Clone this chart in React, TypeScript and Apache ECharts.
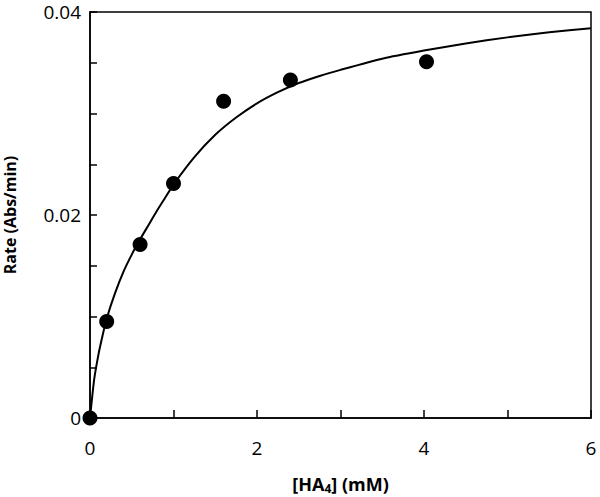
import React, { useEffect, useRef } from "react";
import * as echarts from "echarts";

const pointX = [0, 0.2, 0.6, 1.0, 1.6, 2.4, 4.03];
const pointY = [0, 0.0095, 0.0171, 0.0231, 0.0312, 0.0333, 0.0351];

const curveX = [0, 0.05, 0.1, 0.15, 0.2, 0.3, 0.4, 0.5, 0.6, 0.7, 0.8, 0.9, 1.0, 1.25, 1.5, 1.75, 2.0, 2.25, 2.5, 2.75, 3.0, 3.5, 4.0, 4.5, 5.0, 5.5, 6.0];
const curveY = [0, 0.0038, 0.0062, 0.0081, 0.0098, 0.0123, 0.0144, 0.0161, 0.0176, 0.019, 0.0204, 0.0217, 0.023, 0.0257, 0.0279, 0.0296, 0.031, 0.0321, 0.033, 0.0337, 0.0343, 0.0354, 0.0362, 0.0369, 0.0375, 0.038, 0.0384];

const xLabels = ["0", "2", "4", "6"];
const yLabels = ["0", "0.02", "0.04"];

const FONT = "'Open Sans', 'Noto Sans', sans-serif";

export default function App() {
  const ref = useRef<HTMLDivElement>(null);
  useEffect(() => {
    if (!ref.current) return;
    const chart = echarts.init(ref.current, null, { renderer: "svg" });
    chart.setOption({
      animation: false,
      backgroundColor: "#ffffff",
      grid: {
        left: 90,
        right: 9,
        top: 12,
        bottom: 79,
        outerBoundsMode: "none",
        containLabel: false,
        show: true,
        borderColor: "#000",
        borderWidth: 1.5,
        backgroundColor: "transparent",
      },
      xAxis: {
        type: "value",
        min: 0,
        max: 6,
        interval: 1,
        name: "[HA{sub|4}] (mM)",
        nameLocation: "middle",
        nameGap: 55,
        nameTextStyle: {
          fontFamily: FONT,
          fontWeight: "bold",
          fontSize: 18,
          color: "#000",
          rich: {
            sub: { fontFamily: FONT, fontWeight: "bold", fontSize: 12, color: "#000", verticalAlign: "bottom", padding: [9, 0, 0, 0] },
          },
        },
        axisLine: { show: true, lineStyle: { color: "#000", width: 1.5 } },
        axisTick: { show: true, inside: true, length: 8, lineStyle: { color: "#000", width: 1.5 } },
        splitLine: { show: false },
        axisLabel: {
          margin: 20,
          fontFamily: FONT,
          fontSize: 19,
          color: "#000",
          formatter: (v: number) => {
            const s = String(Math.round(v));
            return xLabels.includes(s) ? s : "";
          },
        },
      },
      yAxis: {
        type: "value",
        min: 0,
        max: 0.04,
        interval: 0.005,
        name: "Rate (Abs/min)",
        nameLocation: "middle",
        nameGap: 72,
        nameRotate: 90,
        nameTextStyle: { fontFamily: FONT, fontWeight: "bold", fontSize: 16, color: "#000" },
        axisLine: { show: true, lineStyle: { color: "#000", width: 1.5 } },
        axisTick: { show: true, inside: true, length: 7, lineStyle: { color: "#000", width: 1.5 } },
        splitLine: { show: false },
        axisLabel: {
          margin: 9,
          fontFamily: FONT,
          fontSize: 19,
          color: "#000",
          formatter: (v: number) => {
            const s = v === 0 ? "0" : (Math.round(v * 1000) / 1000).toString();
            return yLabels.includes(s) ? s : "";
          },
        },
      },
      series: [
        {
          type: "line",
          data: curveX.map((x, i) => [x, curveY[i]]),
          smooth: 0.2,
          showSymbol: false,
          symbol: "none",
          lineStyle: { color: "#000", width: 2 },
          z: 2,
        },
        {
          type: "scatter",
          data: pointX.map((x, i) => [x, pointY[i]]),
          symbol: "circle",
          symbolSize: 15,
          itemStyle: { color: "#000", opacity: 1 },
          clip: false,
          z: 3,
        },
      ],
    });
    return () => chart.dispose();
  }, []);
  return <div ref={ref} style={{ width: 600, height: 497, position: "absolute", left: 0, top: 0 }} />;
}
